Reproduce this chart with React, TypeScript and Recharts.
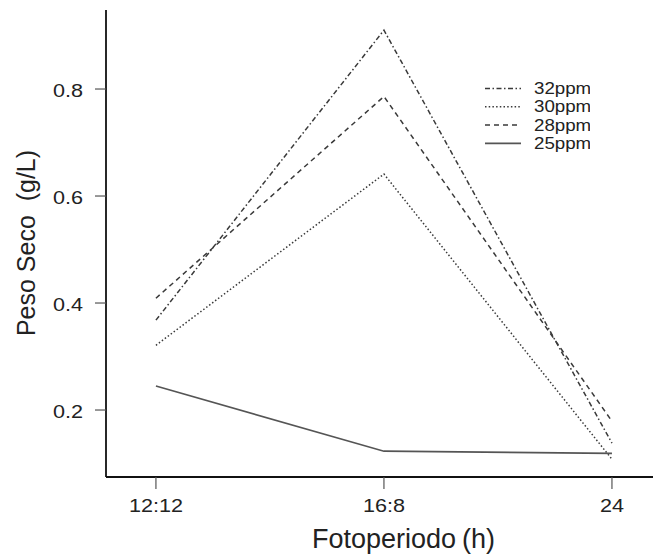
import React from 'react';
import { LineChart, Line, XAxis, YAxis, Legend, Label } from 'recharts';

// photoperiod categories, placed at 0, 1, 2 on a numeric x axis
const categories = ['12:12', '16:8', '24'];
const catPos = [0, 1, 2];

// dry weight (g/L) per CO2 concentration
const ppm32 = [0.368, 0.910, 0.138];
const ppm30 = [0.321, 0.641, 0.108];
const ppm28 = [0.409, 0.786, 0.179];
const ppm25 = [0.245, 0.123, 0.119];

const seriesNames = ['32ppm', '30ppm', '28ppm', '25ppm'];
const seriesValues = [ppm32, ppm30, ppm28, ppm25];

const yTicks = [0.2, 0.4, 0.6, 0.8];

const lineStyles: { [key: string]: { dash?: string; color: string; width: number } } = {
  '32ppm': { dash: '5 2.5 1.5 2.5', color: '#3a3a3a', width: 1.5 },
  '30ppm': { dash: '1.5 2.2', color: '#3a3a3a', width: 1.5 },
  '28ppm': { dash: '5 4', color: '#3a3a3a', width: 1.5 },
  '25ppm': { color: '#555', width: 1.7 },
};

const data = catPos.map((x, i) => {
  const row: { [key: string]: number } = { x };
  seriesNames.forEach((name, s) => {
    row[name] = seriesValues[s][i];
  });
  return row;
});

const FONT = '"Liberation Sans", Arial, sans-serif';

const XTick = (props: any) => {
  const { x, y, payload } = props;
  return (
    <g transform={`translate(${x},${y}) scale(1.2,1)`}>
      <text x={0} y={0} dy={23.5} textAnchor="middle" fontSize={18} fill="#222" fontFamily={FONT}>
        {categories[payload.value]}
      </text>
    </g>
  );
};

const YTick = (props: any) => {
  const { x, y, payload } = props;
  return (
    <g transform={`translate(${x},${y}) scale(1.2,1)`}>
      <text x={0} y={0} dy={7.5} textAnchor="end" fontSize={18} fill="#222" fontFamily={FONT}>
        {payload.value.toFixed(1)}
      </text>
    </g>
  );
};

const XTitle = () => (
  <text x={312} y={548} fontSize={27} fill="#222" fontFamily={FONT}>
    <tspan>Fotoperiodo</tspan>
    <tspan dx={6}>(h)</tspan>
  </text>
);

const YTitle = () => (
  <text
    transform="translate(35,243) rotate(-90)"
    x={0}
    y={0}
    textAnchor="middle"
    fontSize={25}
    fill="#222"
    fontFamily={FONT}
    style={{ whiteSpace: 'pre' }}
  >
    {'Peso Seco  (g/L)'}
  </text>
);

const LegendBox = () => (
  <svg width={120} height={80}>
    {seriesNames.map((name, i) => {
      const st = lineStyles[name];
      const y = 12.5 + i * 18.3;
      return (
        <g key={name}>
          <line x1={15} x2={51} y1={y} y2={y} stroke={st.color} strokeWidth={st.width} strokeDasharray={st.dash} />
          <g transform={`translate(64,${y}) scale(1.2,1)`}>
            <text x={0} y={0} dy={5.6} fontSize={15.6} fill="#222" fontFamily={FONT}>
              {name}
            </text>
          </g>
        </g>
      );
    })}
  </svg>
);

export default function App() {
  return (
    <div style={{ position: 'absolute', left: 0, top: 0, background: '#fff' }}>
      <LineChart width={653} height={554} data={data} margin={{ top: 10, right: 0, bottom: 0, left: 0 }}>
        <XAxis
          dataKey="x"
          type="number"
          domain={[-0.219, 2.18]}
          allowDataOverflow
          ticks={catPos}
          height={77}
          tickSize={12}
          tickMargin={0}
          tick={<XTick />}
          axisLine={{ stroke: '#111', strokeWidth: 1.8 }}
          tickLine={{ stroke: '#555', strokeWidth: 1.2 }}
        >
          <Label content={<XTitle />} />
        </XAxis>
        <YAxis
          type="number"
          domain={[0.0748, 0.9477]}
          allowDataOverflow
          ticks={yTicks}
          width={106}
          tickSize={11}
          tickMargin={12}
          tick={<YTick />}
          axisLine={{ stroke: '#111', strokeWidth: 1.8 }}
          tickLine={{ stroke: '#555', strokeWidth: 1.2 }}
        >
          <Label content={<YTitle />} />
        </YAxis>
        <Legend
          layout="vertical"
          align="center"
          verticalAlign="middle"
          content={<LegendBox />}
          wrapperStyle={{ left: 470, top: 76, width: 120, height: 80 }}
        />
        {seriesNames.map((name) => (
          <Line
            key={name}
            type="linear"
            dataKey={name}
            name={name}
            stroke={lineStyles[name].color}
            strokeWidth={lineStyles[name].width}
            strokeDasharray={lineStyles[name].dash}
            dot={false}
            activeDot={false}
            isAnimationActive={false}
          />
        ))}
      </LineChart>
    </div>
  );
}
